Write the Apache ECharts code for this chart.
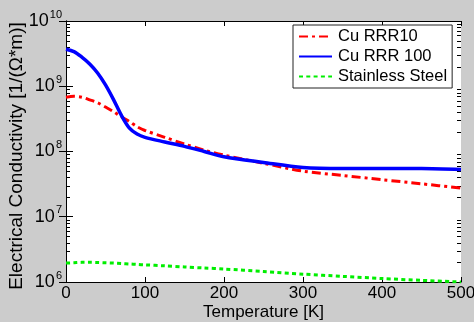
<!DOCTYPE html>
<html><head><meta charset="utf-8">
<script src="https://cdn.jsdelivr.net/npm/echarts@6/dist/echarts.min.js"></script>
<style>html,body{margin:0;padding:0;background:#cccccc;}#c{width:474px;height:322px;}</style>
</head><body><div id="c"></div>
<script>
// Data
const temps = [0, 10, 20, 30, 40, 50, 60, 70, 80, 90, 100, 125, 150, 175, 200, 250, 300, 350, 400, 450, 500];
const cuRRR10 = [6.8e8, 7.0e8, 6.8e8, 6.2e8, 5.6e8, 4.8e8, 4.1e8, 3.4e8, 2.9e8, 2.4e8, 2.1e8, 1.65e8, 1.3e8, 1.05e8, 8.8e7, 6.6e7, 5.0e7, 4.3e7, 3.7e7, 3.2e7, 2.75e7];
const cuRRR100 = [3.7e9, 3.4e9, 2.8e9, 2.2e9, 1.6e9, 1.05e9, 6.3e8, 3.6e8, 2.3e8, 1.85e8, 1.65e8, 1.4e8, 1.2e8, 1.0e8, 8.3e7, 6.8e7, 5.7e7, 5.5e7, 5.5e7, 5.5e7, 5.3e7];
const stainless = [1.95e6, 1.97e6, 2.0e6, 2.0e6, 1.99e6, 1.97e6, 1.95e6, 1.92e6, 1.89e6, 1.86e6, 1.83e6, 1.77e6, 1.7e6, 1.64e6, 1.58e6, 1.45e6, 1.32e6, 1.22e6, 1.13e6, 1.06e6, 1.0e6];
const seriesNames = ['Cu RRR10', 'Cu RRR 100', 'Stainless Steel'];
const xTicks = [0, 100, 200, 300, 400, 500];
const yDecades = [6, 7, 8, 9, 10];
const minorTickValues = [];
for (let k = 6; k < 10; k++) for (let m = 2; m <= 9; m++) minorTickValues.push(m * Math.pow(10, k));

const font = 'Arial, "Liberation Sans", sans-serif';
const pair = arr => temps.map((t, i) => [t, arr[i]]);

const chart = echarts.init(document.getElementById('c'));
chart.setOption({
  animation: false,
  backgroundColor: '#cccccc',
  textStyle: { fontFamily: font, color: '#000' },
  grid: { left: 66, right: 13, top: 21, bottom: 40, show: true, backgroundColor: '#fff', borderWidth: 0,
          containLabel: false, outerBoundsMode: 'none' },
  legend: {
    data: seriesNames,
    orient: 'vertical',
    left: 293, top: 25,
    padding: [3, 5, 3, 5],
    itemWidth: 33, itemHeight: 14, itemGap: 3,
    itemStyle: { opacity: 0 },
    backgroundColor: '#fff', borderColor: '#222', borderWidth: 1, borderRadius: 0,
    textStyle: { fontSize: 16.5, fontFamily: font, color: '#000', padding: [0, 0, 0, 1] }
  },
  xAxis: [{
    type: 'value', min: 0, max: 500, interval: 100, position: 'bottom',
    name: 'Temperature [K]', nameLocation: 'middle', nameGap: 22, nameMoveOverlap: false,
    nameTextStyle: { fontSize: 17, fontFamily: font, color: '#000' },
    axisLine: { show: true, lineStyle: { color: '#000', width: 1 } },
    axisTick: { show: true, inside: true, length: 5, lineStyle: { color: '#000' } },
    axisLabel: { fontSize: 17, fontFamily: font, color: '#000', margin: 3 },
    splitLine: { show: false }
  }, {
    type: 'value', min: 0, max: 500, interval: 100, position: 'top',
    axisLine: { show: true, lineStyle: { color: '#000', width: 1 } },
    axisTick: { show: true, inside: true, length: 5, lineStyle: { color: '#000' } },
    axisLabel: { show: false }, splitLine: { show: false }
  }],
  yAxis: [{
    type: 'log', logBase: 10, min: 1e6, max: 1e10, position: 'left',
    name: 'Electrical Conductivity [1/(Ω*m)]', nameLocation: 'middle', nameGap: 40, nameMoveOverlap: false,
    nameTextStyle: { fontSize: 19, fontFamily: font, color: '#000', padding: [0, 9, 0, 0] },
    axisLine: { show: true, lineStyle: { color: '#000', width: 1 } },
    axisTick: { show: true, inside: true, length: 7, lineStyle: { color: '#000' } },
    axisLabel: {
      margin: 4,
      formatter: v => '{b|10}{s|' + Math.round(Math.log10(v)) + '}',
      rich: {
        b: { fontSize: 18, fontFamily: font, color: '#000' },
        s: { fontSize: 11, fontFamily: font, color: '#000', padding: [0, 0, 13, 1] }
      }
    },
    splitLine: { show: false }
  }, {
    type: 'log', logBase: 10, min: 1e6, max: 1e10, position: 'right',
    axisLine: { show: true, lineStyle: { color: '#000', width: 1 } },
    axisTick: { show: true, inside: true, length: 7, lineStyle: { color: '#000' } },
    axisLabel: { show: false }, splitLine: { show: false }
  }],
  series: [{
    type: 'custom', name: 'minorTicks', xAxisIndex: 0, yAxisIndex: 0, silent: true, clip: false,
    data: minorTickValues.map(v => [0, v]),
    encode: { x: 0, y: 1 },
    renderItem: (params, api) => {
      const y = Math.round(api.coord([0, api.value(1)])[1]) + 0.5;
      const cs = params.coordSys;
      return { type: 'group', children: [
        { type: 'line', shape: { x1: cs.x, y1: y, x2: cs.x + 4, y2: y }, style: { stroke: '#000', lineWidth: 1 } },
        { type: 'line', shape: { x1: cs.x + cs.width, y1: y, x2: cs.x + cs.width - 4, y2: y }, style: { stroke: '#000', lineWidth: 1 } }
      ] };
    }
  }, {
    type: 'line', name: seriesNames[0], data: pair(cuRRR10), smooth: 0.3, symbol: 'none',
    itemStyle: { color: '#ff0000' },
    lineStyle: { color: '#ff0000', width: 3, type: [9, 4, 3, 4], cap: 'butt' }
  }, {
    type: 'line', name: seriesNames[1], data: pair(cuRRR100), smooth: 0.3, symbol: 'none',
    itemStyle: { color: '#0000ff' },
    lineStyle: { color: '#0000ff', width: 3.5 }
  }, {
    type: 'line', name: seriesNames[2], data: pair(stainless), smooth: 0.3, symbol: 'none',
    itemStyle: { color: '#00ee00' },
    lineStyle: { color: '#00ee00', width: 3, type: [4, 3.3], cap: 'butt' }
  }]
});
</script></body></html>
